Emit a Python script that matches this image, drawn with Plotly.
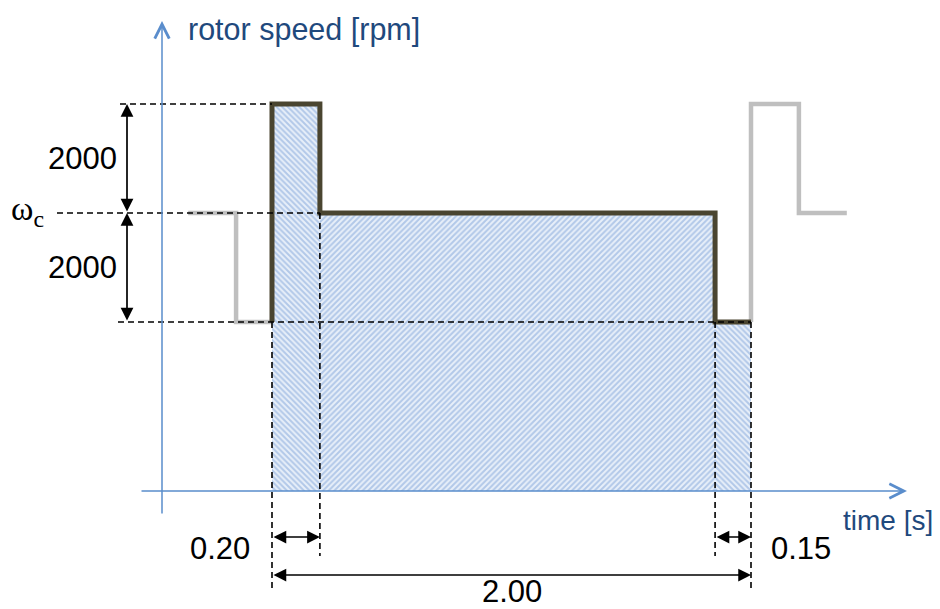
import plotly.graph_objects as go

# ---- data (schematic values) ----
OMEGA_C = 5100          # reference speed level (rpm, schematic)
DELTA = 2000            # step height (rpm)
T_UP = 0.20             # duration of the high step (s)
T_TOTAL = 2.00          # total hatched duration (s)
T_LOW = 0.15            # duration of the low step at the end (s)

black_t = [0.0, 0.0, 0.20, 0.20, 1.85, 1.85, 2.00]
black_v = [3100, 7100, 7100, 5100, 5100, 3100, 3100]
gray_pre_t = [-0.35, -0.15, -0.15, 0.0]
gray_pre_v = [5100, 5100, 3100, 3100]
gray_post_t = [2.00, 2.00, 2.20, 2.20, 2.40]
gray_post_v = [3100, 7100, 7100, 5100, 5100]

# hatched segments (start, end, level) and their hatch direction
seg_t0 = [0.0, 0.20, 1.85]
seg_t1 = [0.20, 1.85, 2.00]
seg_v = [7100, 5100, 3100]
seg_hatch = ["\\", "/", "\\"]

dim_labels = ["2000", "2000", "0.20", "0.15", "2.00"]
axis_labels = ["rotor speed [rpm]", "time [s]"]

# ---- scales (page pixel mapping of the schematic) ----
OFF = 8                 # page body margin
W, H = 940 - OFF, 609 - OFF
PX_PER_S = 239.5
T0_PX = 272.0
PX_PER_RPM = 278.0 / OMEGA_C
V0_PX = 491.0


def tx(px):             # page x pixel -> time
    return (px - T0_PX) / PX_PER_S


def vy(py):             # page y pixel -> rpm
    return (V0_PX - py) / PX_PER_RPM


HI = OMEGA_C + DELTA
LO = OMEGA_C - DELTA

AXIS_BLUE = "#5A8DCC"
TEXT_BLUE = "#1F497D"
DARK = "#4A4530"
GRAY = "#BFBFBF"
FONT = "Liberation Sans, Arial"

fig = go.Figure()

# hatched area under the active profile
for a, b, v, h in zip(seg_t0, seg_t1, seg_v, seg_hatch):
    fig.add_trace(go.Scatter(
        x=[a, b], y=[v, v], mode="lines", fill="tozeroy",
        line=dict(color="#A9C4E8", width=1),
        fillcolor="rgba(0,0,0,0)",
        fillpattern=dict(shape=h, fgcolor="#7CA2D8", bgcolor="#E8EFF9",
                         size=4, solidity=0.5),
        hoverinfo="skip", showlegend=False))

# dashed helper lines
dash = dict(color="black", width=1.6, dash="6px,4px")
hlines = [(tx(120), 0.0, HI), (tx(57), T_UP, OMEGA_C), (tx(118), T_TOTAL, LO)]
for x0, x1, v in hlines:
    fig.add_shape(type="line", xref="x", yref="y", x0=x0, x1=x1, y0=v, y1=v, line=dash)
vlines = [(0.0, LO, vy(591)), (T_UP, OMEGA_C, vy(556)),
          (T_TOTAL - T_LOW, LO, vy(556)), (T_TOTAL, LO, vy(591))]
for t, v0, v1 in vlines:
    fig.add_shape(type="line", xref="x", yref="y", x0=t, x1=t, y0=v0, y1=v1, line=dash)

# gray profiles
for xs, ys in [(gray_pre_t, gray_pre_v), (gray_post_t, gray_post_v)]:
    fig.add_trace(go.Scatter(x=xs, y=ys, mode="lines",
                             line=dict(color=GRAY, width=4.5),
                             hoverinfo="skip", showlegend=False))

# active profile
fig.add_trace(go.Scatter(x=black_t, y=black_v, mode="lines",
                         line=dict(color=DARK, width=5),
                         hoverinfo="skip", showlegend=False))

ann = []
# axes arrows
ann.append(dict(x=tx(162), y=vy(21), ax=tx(162), ay=vy(515), xref="x", yref="y",
                axref="x", ayref="y", text="", showarrow=True, arrowhead=5,
                arrowsize=1.9, arrowwidth=1.5, arrowcolor=AXIS_BLUE))
ann.append(dict(x=tx(907), y=0, ax=tx(140), ay=0, xref="x", yref="y",
                axref="x", ayref="y", text="", showarrow=True, arrowhead=5,
                arrowsize=1.9, arrowwidth=1.5, arrowcolor=AXIS_BLUE))


# dimension arrows
def dim(x0, y0, x1, y1):
    return dict(x=x1, y=y1, ax=x0, ay=y0, xref="x", yref="y", axref="x", ayref="y",
                text="", showarrow=True, arrowhead=2, startarrowhead=2,
                arrowside="end+start", arrowsize=1.5, startarrowsize=1.5,
                arrowwidth=1.7, arrowcolor="black")


xd = tx(127)
ann.append(dim(xd, OMEGA_C, xd, HI))
ann.append(dim(xd, LO, xd, OMEGA_C))
ann.append(dim(0.0, vy(537), T_UP, vy(537)))
ann.append(dim(T_TOTAL - T_LOW, vy(537), T_TOTAL, vy(537)))
ann.append(dim(0.0, vy(575), T_TOTAL, vy(575)))

# texts
tfont = dict(family=FONT, size=31, color="black")
ann.append(dict(x=tx(82), y=OMEGA_C + DELTA / 2, text=dim_labels[0], showarrow=False,
                xref="x", yref="y", font=tfont))
ann.append(dict(x=tx(82), y=OMEGA_C - DELTA / 2, text=dim_labels[1], showarrow=False,
                xref="x", yref="y", font=tfont))
ann.append(dict(x=tx(252), y=vy(548), text=dim_labels[2], showarrow=False,
                xref="x", yref="y", xanchor="right", font=tfont))
ann.append(dict(x=tx(769), y=vy(548), text=dim_labels[3], showarrow=False,
                xref="x", yref="y", xanchor="left", font=tfont))
ann.append(dict(x=(0 + T_TOTAL) / 2, y=vy(591), text=dim_labels[4], showarrow=False,
                xref="x", yref="y", font=tfont))
ann.append(dict(x=tx(9), y=OMEGA_C + 40, text="ω<sub>c</sub>", showarrow=False,
                xref="x", yref="y", xanchor="left", yanchor="middle",
                font=dict(family="Liberation Serif, serif", size=34, color="black")))

ann.append(dict(x=tx(186), y=vy(29), text=axis_labels[0], showarrow=False,
                xref="x", yref="y", xanchor="left", yanchor="middle",
                font=dict(family=FONT, size=30.5, color=TEXT_BLUE)))
ann.append(dict(x=tx(935), y=vy(520), text=axis_labels[1], showarrow=False,
                xref="x", yref="y", xanchor="right", yanchor="middle",
                font=dict(family=FONT, size=28, color=TEXT_BLUE)))

fig.update_layout(
    width=W, height=H, autosize=False,
    margin=dict(l=0, r=0, t=0, b=0, pad=0),
    paper_bgcolor="white", plot_bgcolor="white",
    xaxis=dict(range=[tx(OFF), tx(OFF + W)], visible=False, showgrid=False, zeroline=False),
    yaxis=dict(range=[vy(OFF + H), vy(OFF)], visible=False, showgrid=False, zeroline=False),
    annotations=ann, showlegend=False,
)

fig.write_html("out.html")
